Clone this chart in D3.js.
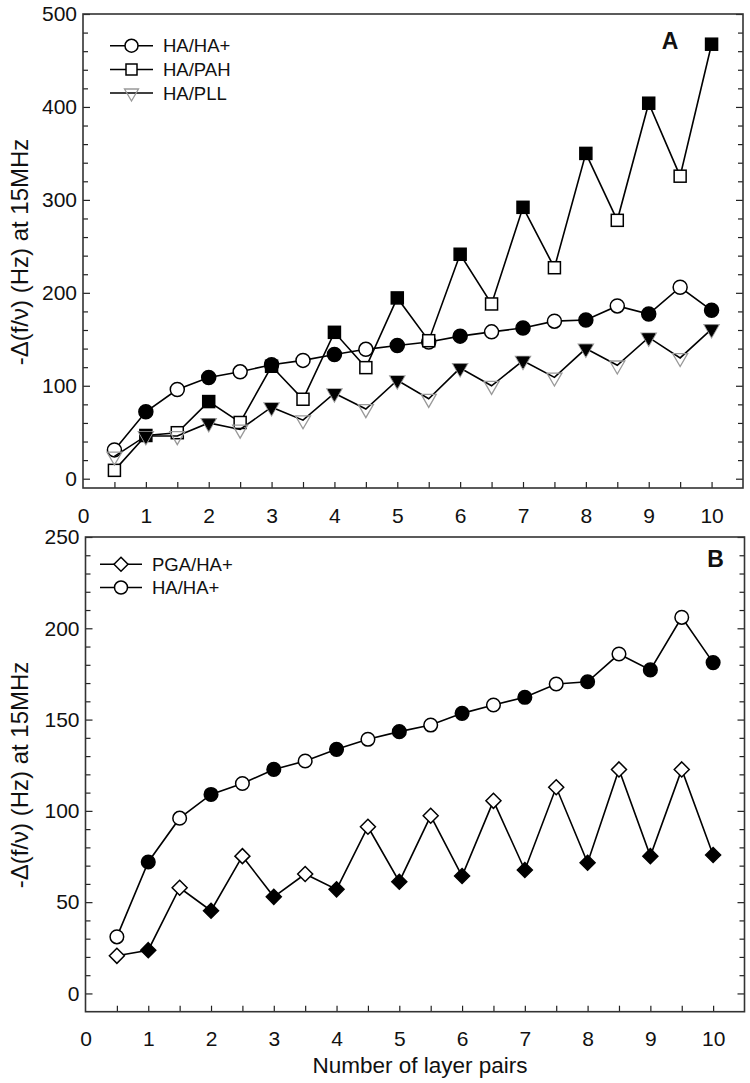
<!DOCTYPE html>
<html>
<head>
<meta charset="utf-8">
<script src="https://cdn.jsdelivr.net/npm/d3@7"></script>
<style>
  html, body { margin: 0; padding: 0; background: #fff; }
  svg { display: block; }
  text { font-family: "Liberation Sans", Arial, sans-serif; fill: #111; }
</style>
</head>
<body>
<script>
// ---------- data ----------
const layerPairs = [0.5, 1, 1.5, 2, 2.5, 3, 3.5, 4, 4.5, 5, 5.5, 6, 6.5, 7, 7.5, 8, 8.5, 9, 9.5, 10];
const haHAplus = [31, 72, 96, 109, 115, 122.7, 127.3, 133.7, 139.2, 143.4, 147, 153.4, 158, 162.2, 169.5, 170.7, 185.9, 177.2, 206, 181.2];
const haPAH    = [9, 46.5, 49.5, 83, 60.5, 121, 85.5, 157.5, 119.5, 194.5, 148.5, 241.5, 188, 292, 227, 350, 278, 404, 325.5, 467.5];
const haPLL    = [24, 46, 46, 60, 53, 77, 63, 92, 75, 106, 86, 119, 100, 127, 109, 140, 122, 152, 130, 161];
const pgaHAplus = [20.6, 23.7, 57.9, 45.3, 75.2, 52.9, 65.4, 57, 91.3, 61.2, 97.3, 64.3, 105.5, 67.6, 112.9, 71.6, 122.7, 75.2, 122.7, 75.8];

const xTickLabels = [0, 1, 2, 3, 4, 5, 6, 7, 8, 9, 10];
const yTicksA = [0, 100, 200, 300, 400, 500];
const yTicksB = [0, 50, 100, 150, 200, 250];
const legendA = ["HA/HA+", "HA/PAH", "HA/PLL"];
const legendB = ["PGA/HA+", "HA/HA+"];
const yTitle = "-\u0394(f/\u03bd) (Hz) at 15MHz";
const xTitle = "Number of layer pairs";

// ---------- setup ----------
const W = 750, H = 1083;
const svg = d3.select("body").append("svg").attr("width", W).attr("height", H);

const isInt = v => Math.abs(v - Math.round(v)) < 1e-9;
const minorX = d3.range(1, 21).map(i => i * 0.5);

function trianglePath(w, h) {
  return `M${-w},${-h / 3}L${w},${-h / 3}L0,${2 * h / 3}Z`;
}
function diamondPath(r) {
  return `M0,${-r}L${r},0L0,${r}L${-r},0Z`;
}

function makePanel(cfg) {
  const x = d3.scaleLinear().domain([0, 10.5]).range([cfg.left, cfg.right]);
  const y = d3.scaleLinear().domain([-10, cfg.ymax]).range([cfg.bottom, cfg.top]);
  const g = svg.append("g");

  const minorY = d3.range(0, cfg.ymax + 0.001, cfg.minorStep).filter(v => !cfg.yTicks.includes(v));
  g.append("g").attr("transform", `translate(${cfg.left},0)`)
    .call(d3.axisLeft(y).tickValues(minorY).tickSize(-5).tickFormat(""))
    .call(s => s.select(".domain").remove());
  g.append("g").attr("transform", `translate(${cfg.left},0)`)
    .call(d3.axisLeft(y).tickValues(cfg.yTicks).tickSize(-7).tickPadding(6).tickFormat(d3.format("d")))
    .call(s => s.select(".domain").remove())
    .call(s => s.selectAll("text").style("font-size", "21px"));
  g.append("g").attr("transform", `translate(${cfg.right},0)`)
    .call(d3.axisRight(y).tickValues(minorY).tickSize(-5).tickFormat(""))
    .call(s => s.select(".domain").remove());
  g.append("g").attr("transform", `translate(${cfg.right},0)`)
    .call(d3.axisRight(y).tickValues(cfg.yTicks).tickSize(-7).tickFormat(""))
    .call(s => s.select(".domain").remove());
  g.append("g").attr("transform", `translate(0,${cfg.bottom})`)
    .call(d3.axisBottom(x).tickValues(minorX).tickSize(-6).tickFormat(""))
    .call(s => s.select(".domain").remove());
  g.append("g").attr("transform", `translate(0,${cfg.bottom})`)
    .call(d3.axisBottom(x).tickValues(xTickLabels).tickSize(0).tickPadding(cfg.xPad).tickFormat(d3.format("d")))
    .call(s => s.select(".domain").remove())
    .call(s => s.selectAll("text").style("font-size", "21px"));
  g.selectAll(".tick line").attr("stroke", "#222").attr("stroke-width", 1.2);

  g.append("rect")
    .attr("x", cfg.left).attr("y", cfg.top)
    .attr("width", cfg.right - cfg.left).attr("height", cfg.bottom - cfg.top)
    .attr("fill", "none").attr("stroke", "#333").attr("stroke-width", 1.6);

  g.append("text")
    .attr("transform", `translate(${cfg.titleX},${cfg.titleY}) rotate(-90)`)
    .attr("text-anchor", "middle")
    .style("font-size", "24px")
    .text(yTitle);

  g.append("text")
    .attr("x", cfg.letterX).attr("y", cfg.letterY)
    .attr("text-anchor", "middle")
    .style("font-size", "23px").style("font-weight", "bold")
    .text(cfg.letter);

  return { x, y, g };
}

function drawLine(p, values) {
  const line = d3.line().x((d, i) => p.x(layerPairs[i])).y(d => p.y(d));
  p.g.append("path").datum(values).attr("d", line)
    .attr("fill", "none").attr("stroke", "#000").attr("stroke-width", 1.6);
}
function drawCircles(p, values, r) {
  p.g.append("g").selectAll("circle").data(values).join("circle")
    .attr("cx", (d, i) => p.x(layerPairs[i])).attr("cy", d => p.y(d)).attr("r", r)
    .attr("fill", (d, i) => isInt(layerPairs[i]) ? "#000" : "#fff")
    .attr("stroke", "#000").attr("stroke-width", 1.5);
}
function drawSquares(p, values, s) {
  p.g.append("g").selectAll("rect").data(values).join("rect")
    .attr("x", (d, i) => p.x(layerPairs[i]) - s / 2).attr("y", d => p.y(d) - s / 2)
    .attr("width", s).attr("height", s)
    .attr("fill", (d, i) => isInt(layerPairs[i]) ? "#000" : "#fff")
    .attr("stroke", "#000").attr("stroke-width", 1.5);
}
function drawTriangles(p, values) {
  p.g.append("g").selectAll("path").data(values).join("path")
    .attr("transform", (d, i) => `translate(${p.x(layerPairs[i])},${p.y(d)})`)
    .attr("d", trianglePath(7.5, 13))
    .attr("fill", "none").attr("stroke", "#999").attr("stroke-width", 1.3);
  const ints = values.map((d, i) => [layerPairs[i], d]).filter(p2 => isInt(p2[0]));
  p.g.append("g").selectAll("path").data(ints).join("path")
    .attr("transform", d => `translate(${p.x(d[0])},${p.y(d[1])})`)
    .attr("d", trianglePath(6.3, 11))
    .attr("fill", "#000").attr("stroke", "#000").attr("stroke-width", 1);
}
function drawDiamonds(p, values, r) {
  p.g.append("g").selectAll("path").data(values).join("path")
    .attr("transform", (d, i) => `translate(${p.x(layerPairs[i])},${p.y(d)})`)
    .attr("d", diamondPath(r))
    .attr("fill", (d, i) => isInt(layerPairs[i]) ? "#000" : "#fff")
    .attr("stroke", "#000").attr("stroke-width", 1.5);
}

// ---------- panel A ----------
const A = makePanel({
  left: 83, right: 743, top: 14, bottom: 488, ymax: 500,
  yTicks: yTicksA, minorStep: 20, xPad: 20,
  titleX: 28, titleY: 252, letter: "A", letterX: 670, letterY: 49
});
drawLine(A, haHAplus); drawCircles(A, haHAplus, 7);
drawLine(A, haPAH); drawSquares(A, haPAH, 12);
drawLine(A, haPLL); drawTriangles(A, haPLL);

const legAY = [45.7, 69.5, 93];
legendA.forEach((name, k) => {
  const gy = legAY[k];
  A.g.append("line").attr("x1", 110).attr("x2", 153).attr("y1", gy).attr("y2", gy)
    .attr("stroke", "#000").attr("stroke-width", 1.5);
  if (k === 0) A.g.append("circle").attr("cx", 131.5).attr("cy", gy).attr("r", 6.5)
    .attr("fill", "#fff").attr("stroke", "#000").attr("stroke-width", 1.5);
  if (k === 1) A.g.append("rect").attr("x", 126).attr("y", gy - 5.5).attr("width", 11).attr("height", 11)
    .attr("fill", "#fff").attr("stroke", "#000").attr("stroke-width", 1.5);
  if (k === 2) A.g.append("path").attr("transform", `translate(131.5,${gy})`).attr("d", trianglePath(7, 12))
    .attr("fill", "none").attr("stroke", "#999").attr("stroke-width", 1.3);
  A.g.append("text").attr("x", 163).attr("y", gy).attr("dy", "0.36em")
    .style("font-size", "18.5px").text(name);
});

// ---------- panel B ----------
const B = makePanel({
  left: 85.5, right: 744.5, top: 537, bottom: 1011.7, ymax: 250,
  yTicks: yTicksB, minorStep: 10, xPad: 19,
  titleX: 28, titleY: 775, letter: "B", letterX: 715.5, letterY: 567
});
drawLine(B, haHAplus); drawCircles(B, haHAplus, 6.8);
drawLine(B, pgaHAplus); drawDiamonds(B, pgaHAplus, 7.5);

const legBY = [564.3, 587.5];
legendB.forEach((name, k) => {
  const gy = legBY[k];
  B.g.append("line").attr("x1", 100).attr("x2", 142).attr("y1", gy).attr("y2", gy)
    .attr("stroke", "#000").attr("stroke-width", 1.5);
  if (k === 0) B.g.append("path").attr("transform", `translate(121,${gy})`).attr("d", diamondPath(7))
    .attr("fill", "#fff").attr("stroke", "#000").attr("stroke-width", 1.5);
  if (k === 1) B.g.append("circle").attr("cx", 121).attr("cy", gy).attr("r", 6.5)
    .attr("fill", "#fff").attr("stroke", "#000").attr("stroke-width", 1.5);
  B.g.append("text").attr("x", 152).attr("y", gy).attr("dy", "0.36em")
    .style("font-size", "18.5px").text(name);
});

svg.append("text").attr("x", 420).attr("y", 1073).attr("text-anchor", "middle")
  .style("font-size", "22.5px").text(xTitle);
</script>
</body>
</html>
